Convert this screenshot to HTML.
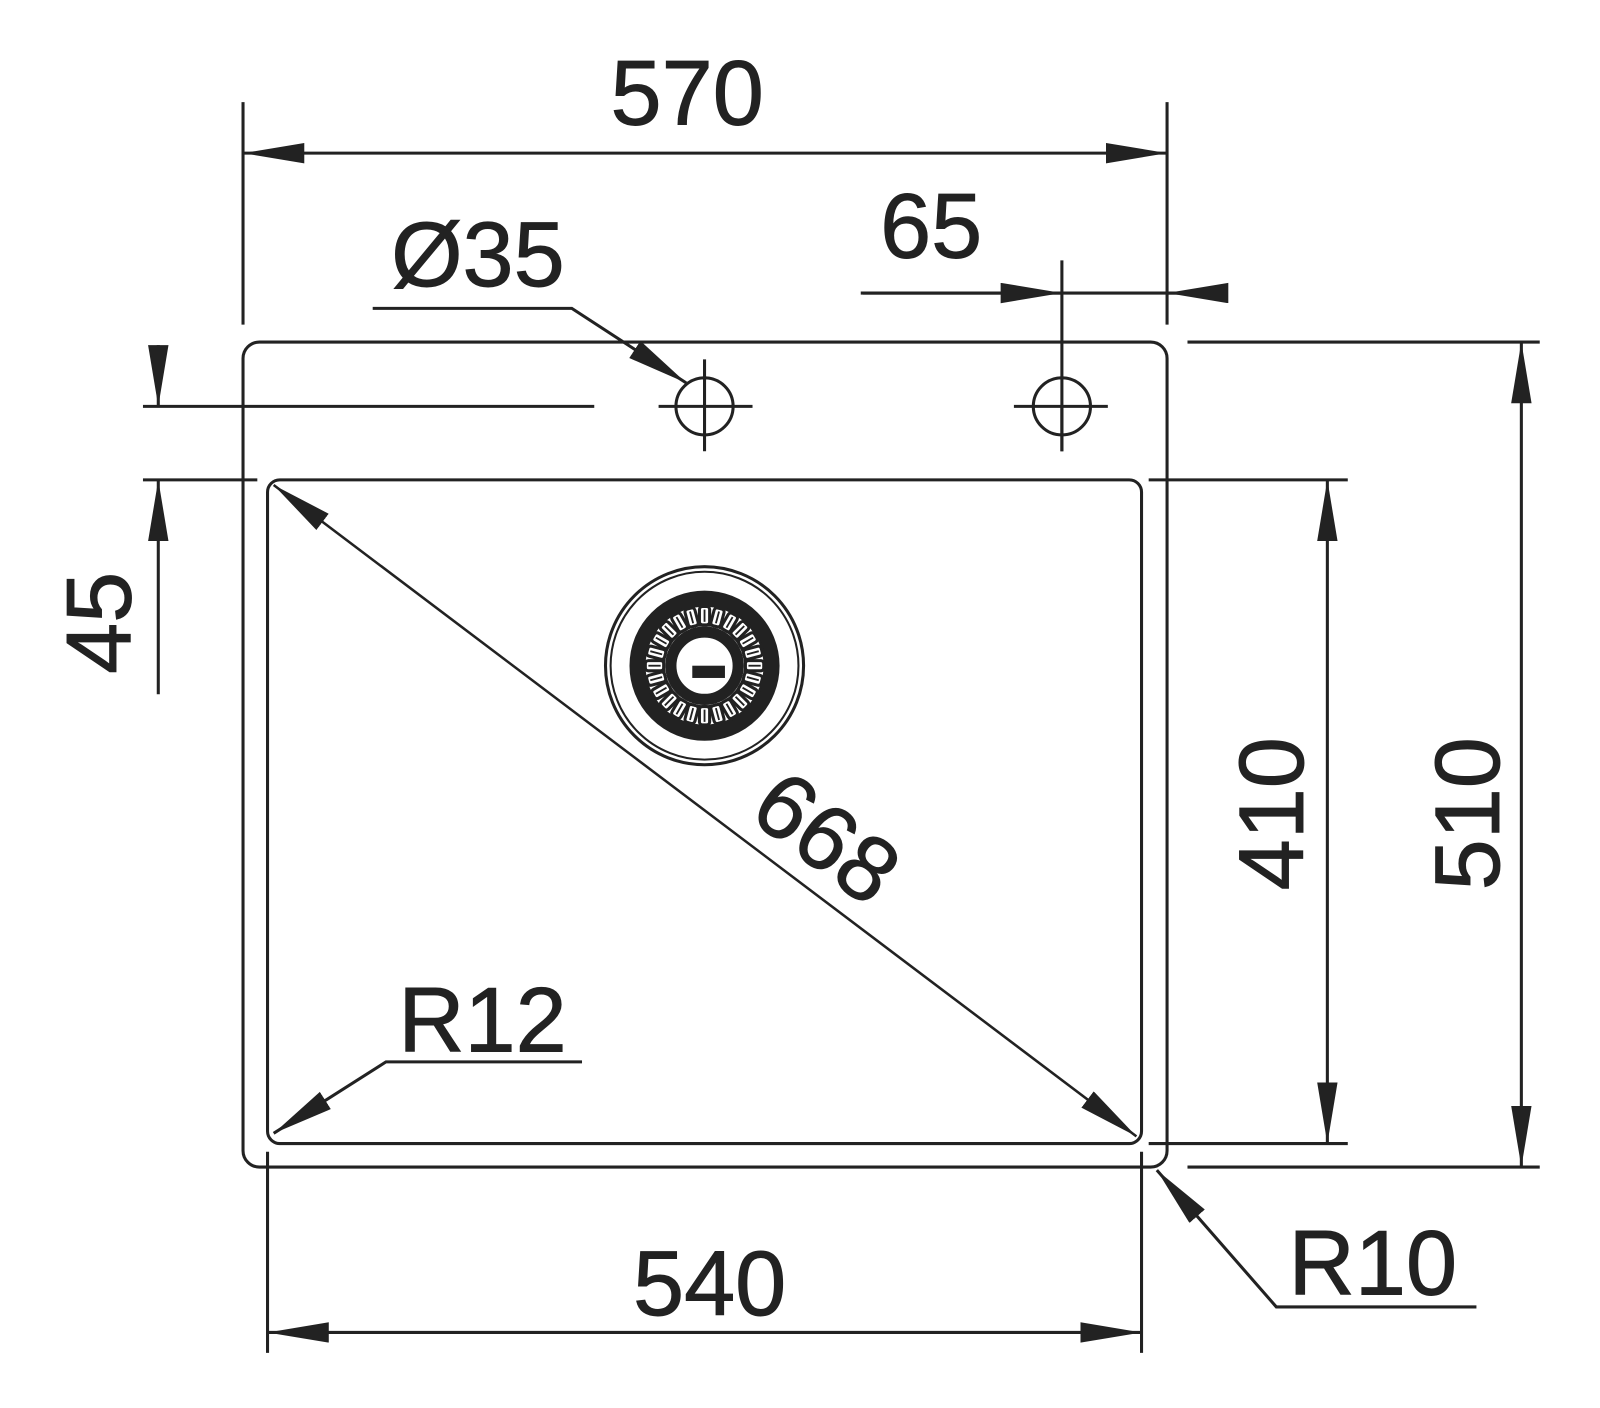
<!DOCTYPE html>
<html><head><meta charset="utf-8"><style>html,body{margin:0;padding:0;background:#fff}svg{display:block}</style></head>
<body>
<svg width="1600" height="1408" viewBox="0 0 1567 1379" xmlns="http://www.w3.org/2000/svg">
<defs>
<marker id="a" markerUnits="userSpaceOnUse" markerWidth="62" markerHeight="22" refX="60" refY="10" orient="auto-start-reverse" viewBox="0 0 62 22"><path d="M0,0 L60,10 L0,20 z" fill="#222"/></marker>
<g id="slot"><rect x="-5" y="-58" width="10" height="18" rx="3" fill="none" stroke="#222" stroke-width="3"/><line x1="0" y1="-55" x2="0" y2="-43" stroke="#222" stroke-width="1.8"/></g>
</defs>
<g fill="none" stroke="#222" stroke-width="3">
<rect x="238" y="335" width="905" height="808" rx="16"/>
<rect x="262" y="470" width="856" height="650" rx="12"/>
<line x1="238" y1="100" x2="238" y2="318"/>
<line x1="1143" y1="100" x2="1143" y2="318"/>
<line x1="1040" y1="255" x2="1040" y2="442"/>
<line x1="140" y1="398" x2="582" y2="398"/>
<line x1="140" y1="470" x2="252" y2="470"/>
<line x1="1125" y1="470" x2="1320" y2="470"/>
<line x1="1125" y1="1120" x2="1320" y2="1120"/>
<line x1="1163" y1="335" x2="1508" y2="335"/>
<line x1="1163" y1="1143" x2="1508" y2="1143"/>
<line x1="262" y1="1128" x2="262" y2="1325"/>
<line x1="1118" y1="1128" x2="1118" y2="1325"/>
<line x1="238" y1="150" x2="1143" y2="150" marker-start="url(#a)" marker-end="url(#a)"/>
<line x1="843" y1="287" x2="1200" y2="287"/>
<line x1="845" y1="287" x2="1040" y2="287" marker-end="url(#a)"/>
<line x1="1200" y1="287" x2="1143" y2="287" marker-end="url(#a)"/>
<polyline points="365,302 560,302 672,375" marker-end="url(#a)"/>
<line x1="155" y1="338" x2="155" y2="398" marker-end="url(#a)"/>
<line x1="155" y1="680" x2="155" y2="470" marker-end="url(#a)"/>
<line x1="268" y1="475" x2="1113" y2="1113" stroke-width="2.5" marker-start="url(#a)" marker-end="url(#a)"/>
<polyline points="570,1040 378,1040 268,1110" marker-end="url(#a)"/>
<line x1="1300" y1="470" x2="1300" y2="1120" marker-start="url(#a)" marker-end="url(#a)"/>
<line x1="1490" y1="335" x2="1490" y2="1143" marker-start="url(#a)" marker-end="url(#a)"/>
<line x1="262" y1="1305" x2="1118" y2="1305" marker-start="url(#a)" marker-end="url(#a)"/>
<polyline points="1446,1280 1250,1280 1133,1146" marker-end="url(#a)"/>
<circle cx="690" cy="398" r="28"/>
<line x1="645" y1="398" x2="737" y2="398"/><line x1="690" y1="352" x2="690" y2="442"/>
<circle cx="1040" cy="398" r="28"/>
<line x1="993" y1="398" x2="1085" y2="398"/>
<line x1="1040" y1="398" x2="1040" y2="442"/>
<circle cx="690" cy="652" r="97" stroke-width="3"/>
<circle cx="690" cy="652" r="92" stroke-width="2"/>
<circle cx="690" cy="652" r="66" stroke-width="15"/>
<circle cx="690" cy="652" r="33" stroke-width="11"/>
</g>
<g transform="translate(690,652)">
<use href="#slot" transform="rotate(0)"/><use href="#slot" transform="rotate(15)"/><use href="#slot" transform="rotate(30)"/><use href="#slot" transform="rotate(45)"/><use href="#slot" transform="rotate(60)"/><use href="#slot" transform="rotate(75)"/><use href="#slot" transform="rotate(90)"/><use href="#slot" transform="rotate(105)"/><use href="#slot" transform="rotate(120)"/><use href="#slot" transform="rotate(135)"/><use href="#slot" transform="rotate(150)"/><use href="#slot" transform="rotate(165)"/><use href="#slot" transform="rotate(180)"/><use href="#slot" transform="rotate(195)"/><use href="#slot" transform="rotate(210)"/><use href="#slot" transform="rotate(225)"/><use href="#slot" transform="rotate(240)"/><use href="#slot" transform="rotate(255)"/><use href="#slot" transform="rotate(270)"/><use href="#slot" transform="rotate(285)"/><use href="#slot" transform="rotate(300)"/><use href="#slot" transform="rotate(315)"/><use href="#slot" transform="rotate(330)"/><use href="#slot" transform="rotate(345)"/>
<circle r="59" fill="none" stroke="#222" stroke-width="2.5"/>
<circle r="40" fill="none" stroke="#222" stroke-width="2.5"/>
<rect x="-12" y="0" width="32" height="12" fill="#222"/>
</g>
<g font-family="Liberation Sans, sans-serif" font-size="90" fill="#222" stroke="#222" stroke-width="0.9">
<text x="673" y="122" text-anchor="middle">570</text>
<text x="383" y="280">Ø35</text>
<text x="912" y="252" text-anchor="middle">65</text>
<text transform="translate(128,610) rotate(-90)" text-anchor="middle">45</text>
<text transform="translate(1276,797) rotate(-90)" text-anchor="middle">410</text>
<text transform="translate(1468,797) rotate(-90)" text-anchor="middle">510</text>
<text transform="translate(791,845) rotate(37)" text-anchor="middle">668</text>
<text x="390" y="1030">R12</text>
<text x="695" y="1288" text-anchor="middle">540</text>
<text x="1262" y="1268">R10</text>
</g>
</svg>
</body></html>
